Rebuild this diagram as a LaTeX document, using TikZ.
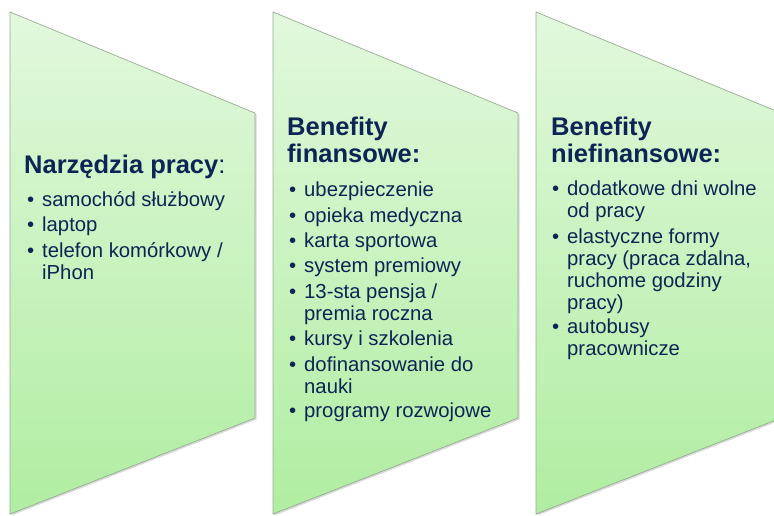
\documentclass[tikz,border=0pt]{standalone}
\usepackage{fontspec}
\setmainfont{Liberation Sans}
\usepackage{xcolor}
\definecolor{navyText}{RGB}{12,37,84}
\definecolor{panelTop}{RGB}{226,248,221}
\definecolor{panelBottom}{RGB}{176,237,161}
\definecolor{panelLine}{RGB}{150,172,146}
\newcommand{\dotb}{\llap{\textbullet\hspace{8pt}}}
\newcommand{\stack}[1]{\begin{tabular}[t]{@{}l@{}}#1\end{tabular}}

\begin{document}
\begin{tikzpicture}[x=1pt,y=-1pt,
    panel/.style={draw=panelLine, line width=0.7pt, top color=panelTop, bottom color=panelBottom},
    panelshadow/.style={fill=black, opacity=0.15},
    title/.style={anchor=base west, inner sep=0pt, text=navyText,
        font=\fontsize{25.5}{27}\selectfont\bfseries},
    item/.style={anchor=base west, inner sep=0pt, text=navyText,
        font=\fontsize{20.3}{22}\selectfont}]
    \useasboundingbox (0,0) rectangle (774,515);

    % three panels
    \begin{scope}
        \clip (0,0) rectangle (774,515);
        \foreach \x in {10,273,536} {
            \fill[panelshadow] (\x+1.5,13.5) -- (\x+246.5,114.5) -- (\x+246.5,419.5) -- (\x+1.5,515.5) -- cycle;
            \path[panel] (\x,12) -- (\x+245,113) -- (\x+245,418) -- (\x,514) -- cycle;
        }
    \end{scope}

    % Narzedzia pracy
    \node[title] (tools) at (24,173) {Narzędzia pracy\textmd{:}};
    \node[item] (tools1) at (42,206) {\dotb samochód służbowy};
    \node[item] (tools2) at (42,231) {\dotb laptop};
    \node[item] (tools3) at (42,257) {\stack{\dotb telefon komórkowy /\\iPhon}};

    % Benefity finansowe
    \node[title] (fin) at (287,135) {\stack{Benefity\\finansowe:}};
    \node[item] (fin1) at (304,196) {\dotb ubezpieczenie};
    \node[item] (fin2) at (304,222) {\dotb opieka medyczna};
    \node[item] (fin3) at (304,247) {\dotb karta sportowa};
    \node[item] (fin4) at (304,272) {\dotb system premiowy};
    \node[item] (fin5) at (304,298) {\stack{\dotb 13-sta pensja /\\premia roczna}};
    \node[item] (fin6) at (304,345) {\dotb kursy i szkolenia};
    \node[item] (fin7) at (304,371) {\stack{\dotb dofinansowanie do\\nauki}};
    \node[item] (fin8) at (304,417) {\dotb programy rozwojowe};

    % Benefity niefinansowe
    \node[title] (nonfin) at (551,135) {\stack{Benefity\\niefinansowe:}};
    \node[item] (nonfin1) at (567,195) {\stack{\dotb dodatkowe dni wolne\\od pracy}};
    \node[item] (nonfin2) at (567,243) {\stack{\dotb elastyczne formy\\pracy (praca zdalna,\\ruchome godziny\\pracy)}};
    \node[item] (nonfin3) at (567,333) {\stack{\dotb autobusy\\pracownicze}};
\end{tikzpicture}
\end{document}
